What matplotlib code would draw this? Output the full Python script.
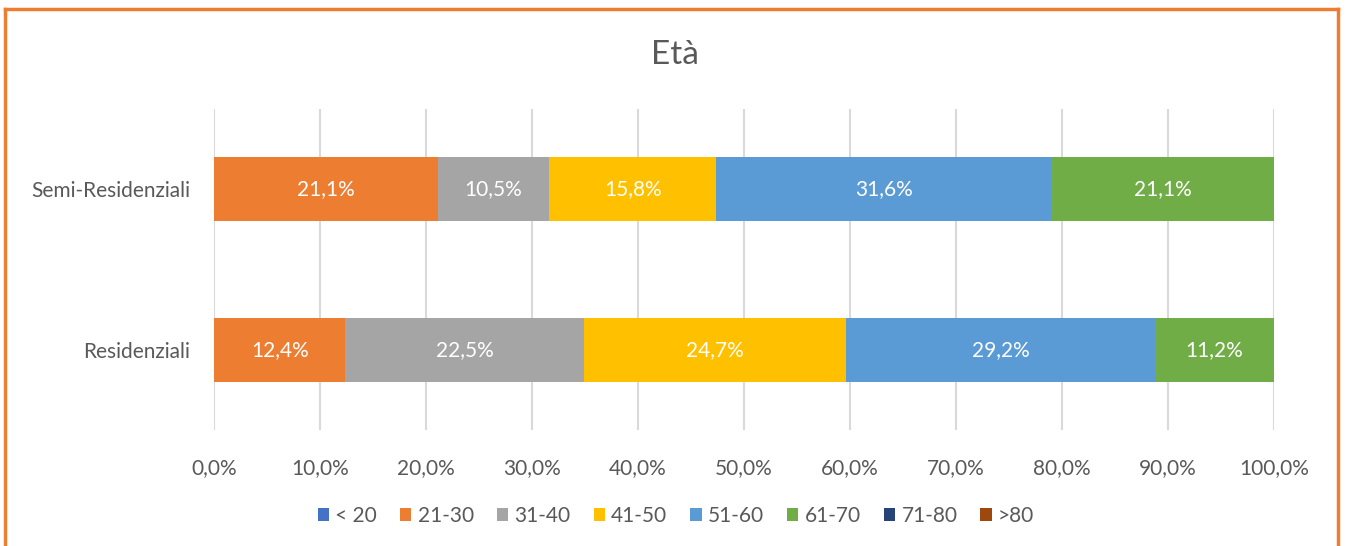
import matplotlib
matplotlib.use("Agg")
import matplotlib.pyplot as plt
from matplotlib.lines import Line2D
from matplotlib.patches import Patch

categories = ["Residenziali", "Semi-Residenziali"]
age_groups = ["< 20", "21-30", "31-40", "41-50", "51-60", "61-70", "71-80", ">80"]
residenziali = [0.0, 12.4, 22.5, 24.7, 29.2, 11.2, 0.0, 0.0]
semi_residenziali = [0.0, 21.1, 10.5, 15.8, 31.6, 21.1, 0.0, 0.0]
colors = ["#4472C4", "#ED7D31", "#A5A5A5", "#FFC000", "#5B9BD5", "#70AD47", "#264478", "#9E480E"]
xticks = [0, 10, 20, 30, 40, 50, 60, 70, 80, 90, 100]
title = "Età"

plt.rcParams['font.family'] = ['Lato', 'DejaVu Sans']

W, H = 1349, 546
fig = plt.figure(figsize=(W / 100, H / 100), dpi=100)
ax = fig.add_axes([214 / W, 1 - 430 / H, (1274 - 214) / W, (430 - 109) / H])

values = [residenziali, semi_residenziali]
left = [0.0, 0.0]
for j, grp in enumerate(age_groups):
    vals = [values[i][j] for i in range(len(categories))]
    bars = ax.barh(range(len(categories)), vals, left=left, height=0.4,
                   color=colors[j], label=grp, zorder=3)
    for i, b in enumerate(bars):
        v = vals[i]
        if v > 0:
            ax.text(left[i] + v / 2, i, f"{v:.1f}%".replace(".", ","),
                    ha="center", va="center", color="white", fontsize=15, zorder=4)
    left = [left[i] + vals[i] for i in range(len(categories))]

ax.set_xlim(0, 100)
ax.set_ylim(-0.5, 1.5)
ax.set_xticks(xticks)
ax.set_xticklabels([f"{t:.1f}%".replace(".", ",") for t in xticks])
ax.set_yticks(range(len(categories)))
ax.set_yticklabels(categories)
ax.tick_params(axis="both", length=0, labelsize=15, labelcolor="#595959")
ax.tick_params(axis="x", pad=20)
ax.tick_params(axis="y", pad=17)
ax.grid(axis="x", color="#D9D9D9", linewidth=1.5, zorder=0)
for s in ax.spines.values():
    s.set_visible(False)

fig.text(0.5, 1 - 55 / H, title, ha="center", va="center", fontsize=24, color="#595959")

handles = [Patch(facecolor=c, edgecolor="none", label=g) for c, g in zip(colors, age_groups)]
fig.legend(handles=handles, loc="center", bbox_to_anchor=(676 / W, 1 - 516 / H), ncol=8,
           frameon=False, fontsize=15, labelcolor="#595959", handlelength=0.55, handleheight=0.55,
           handletextpad=0.3, columnspacing=1.1)

# orange frame
oc = "#ED7D31"
lw = 2.5
fig.add_artist(Line2D([5 / W, 5 / W], [0, 1 - 9 / H], color=oc, lw=lw, transform=fig.transFigure))
fig.add_artist(Line2D([1338 / W, 1338 / W], [0, 1 - 9 / H], color=oc, lw=lw, transform=fig.transFigure))
fig.add_artist(Line2D([5 / W, 1338 / W], [1 - 9 / H, 1 - 9 / H], color=oc, lw=lw, transform=fig.transFigure, solid_capstyle="projecting"))

fig.savefig("out.png", dpi=100)
